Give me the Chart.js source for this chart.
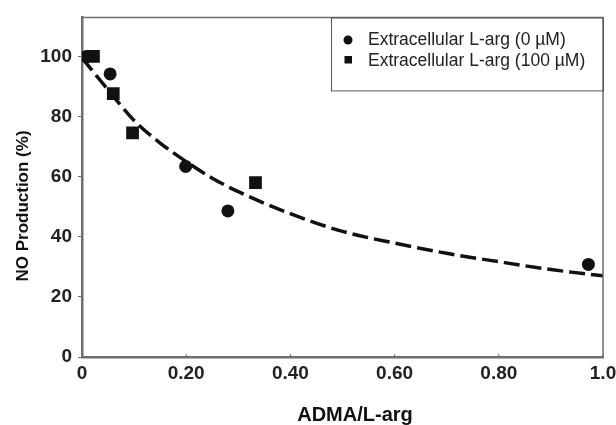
<!DOCTYPE html>
<html>
<head>
<meta charset="utf-8">
<script src="https://cdn.jsdelivr.net/npm/chart.js@4.4.1/dist/chart.umd.min.js"></script>
<style>
  html, body { margin: 0; padding: 0; background: #fff; }
  #wrap { width: 616px; height: 425px; position: relative; }
</style>
</head>
<body>
<div id="wrap"><canvas id="chart"></canvas></div>
<script>
// data
var argZeroX = [0.008, 0.054, 0.199, 0.280, 0.972];
var argZeroY = [100, 94.2, 63.4, 48.6, 30.8];
var argHundredX = [0.022, 0.060, 0.097, 0.333];
var argHundredY = [100, 87.6, 74.6, 58.0];
var fitX = [0, 0.05, 0.10, 0.15, 0.20, 0.25, 0.30, 0.40, 0.50, 0.60, 0.70, 0.80, 0.90, 1.0];
var fitY = [99.5, 88.9, 78.7, 71.2, 65.0, 59.5, 55.0, 47.7, 41.8, 37.9, 34.5, 31.7, 29.1, 27.0];
var xTicks = [0, 0.2, 0.4, 0.6, 0.8, 1.0];
var xTickLabels = ['0', '0.20', '0.40', '0.60', '0.80', '1.0'];
var yTicks = [0, 20, 40, 60, 80, 100];
var seriesNames = ['Extracellular L-arg (0 \u00b5M)', 'Extracellular L-arg (100 \u00b5M)'];
var xTitle = 'ADMA/L-arg';
var yTitle = 'NO Production (%)';

function toPoints(xs, ys) {
    return xs.map(function (x, i) { return { x: x, y: ys[i] }; });
}

var font = '"Liberation Sans", Arial, sans-serif';
var axisGrey = '#6e6e6e';

// frame on top/right, inner x ticks, axis titles and the boxed legend
var framePlugin = {
    id: 'frame',
    afterDraw: function (chart) {
        var ctx = chart.ctx;
        var a = chart.chartArea;
        ctx.save();
        ctx.strokeStyle = axisGrey;
        ctx.lineWidth = 1.5;
        ctx.beginPath();
        ctx.moveTo(a.left, a.top);
        ctx.lineTo(a.right, a.top);
        ctx.lineTo(a.right, a.bottom);
        ctx.stroke();

        // small inward ticks on x axis
        var xs = chart.scales.x;
        ctx.lineWidth = 1;
        xTicks.forEach(function (v) {
            var px = xs.getPixelForValue(v);
            ctx.beginPath();
            ctx.moveTo(px, a.bottom);
            ctx.lineTo(px, a.bottom - 3);
            ctx.stroke();
        });

        // axis titles
        ctx.fillStyle = '#111';
        ctx.textAlign = 'center';
        ctx.textBaseline = 'alphabetic';
        ctx.font = 'bold 20px ' + font;
        ctx.fillText(xTitle, 355, 421);
        ctx.save();
        ctx.translate(28, 206);
        ctx.rotate(-Math.PI / 2);
        ctx.font = 'bold 17px ' + font;
        ctx.fillText(yTitle, 0, 0);
        ctx.restore();

        // legend box
        var bx = 331, by = a.top, bw = a.right - bx, bh = 73;
        ctx.strokeStyle = '#555';
        ctx.lineWidth = 1;
        ctx.strokeRect(bx + 0.5, by + 0.5, bw, bh);
        ctx.fillStyle = '#111';
        ctx.beginPath();
        ctx.arc(348, 40, 4.5, 0, Math.PI * 2);
        ctx.fill();
        ctx.fillRect(344.5, 56, 7.5, 7.5);
        ctx.fillStyle = '#222';
        ctx.font = '17.5px ' + font;
        ctx.textBaseline = 'middle';
        ctx.textAlign = 'left';
        ctx.fillText(chart.data.datasets[0].label, 368, 40.5);
        ctx.fillText(chart.data.datasets[1].label, 368, 61);
        ctx.restore();
    }
};

var config = {
    type: 'scatter',
    data: {
        datasets: [{
            label: seriesNames[0],
            data: toPoints(argZeroX, argZeroY),
            pointStyle: 'circle',
            pointRadius: 6.5,
            pointHoverRadius: 6.5,
            backgroundColor: '#111',
            borderColor: '#111',
            borderWidth: 0,
            order: 1
        }, {
            label: seriesNames[1],
            data: toPoints(argHundredX, argHundredY),
            pointStyle: 'rect',
            pointRadius: 9,
            pointHoverRadius: 9,
            backgroundColor: '#111',
            borderColor: '#111',
            borderWidth: 0,
            order: 2
        }, {
            label: 'fit',
            data: toPoints(fitX, fitY),
            showLine: true,
            pointRadius: 0,
            borderColor: '#111',
            borderWidth: 3.5,
            borderDash: [16, 6],
            cubicInterpolationMode: 'monotone',
            fill: false,
            order: 3
        }]
    },
    options: {
        responsive: true,
        maintainAspectRatio: false,
        animation: false,
        layout: { padding: { top: 14, right: 13, left: 0, bottom: 0 } },
        plugins: {
            legend: { display: false },
            tooltip: { enabled: false }
        },
        scales: {
            x: {
                type: 'linear',
                min: 0,
                max: 1.0,
                afterBuildTicks: function (scale) {
                    scale.ticks = xTicks.map(function (v) { return { value: v }; });
                },
                afterFit: function (scale) {
                    scale.height = 68;
                    scale.paddingLeft = 0;
                    scale.paddingRight = 0;
                },
                ticks: {
                    color: '#222',
                    font: { family: font, size: 19, weight: 'bold' },
                    padding: 5,
                    maxRotation: 0,
                    autoSkip: false,
                    callback: function (v) {
                        var i = xTicks.indexOf(v);
                        return i >= 0 ? xTickLabels[i] : '';
                    }
                },
                grid: { display: true, drawOnChartArea: false, drawTicks: false },
                border: { color: axisGrey, width: 2.5 },
                title: { display: false }
            },
            y: {
                min: 0,
                max: 113,
                afterBuildTicks: function (scale) {
                    scale.ticks = yTicks.map(function (v) { return { value: v }; });
                },
                afterFit: function (scale) {
                    scale.width = 82;
                },
                ticks: {
                    color: '#222',
                    font: { family: font, size: 19, weight: 'bold' },
                    padding: 6
                },
                grid: { display: true, drawOnChartArea: false, tickLength: 4, color: axisGrey },
                border: { color: axisGrey, width: 2.5 },
                title: { display: false }
            }
        }
    },
    plugins: [framePlugin]
};

window.onload = function () {
    var ctx = document.getElementById('chart').getContext('2d');
    window.myChart = new Chart(ctx, config);
};
</script>
</body>
</html>
